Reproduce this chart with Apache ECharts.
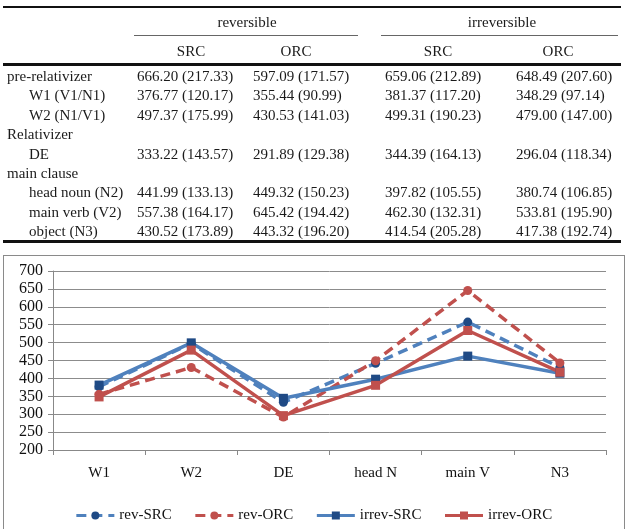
<!DOCTYPE html>
<html>
<head>
<meta charset="utf-8">
<script src="https://cdn.jsdelivr.net/npm/echarts@6/dist/echarts.min.js"></script>
<style>
  body { margin: 0; background: #fff; }
  #page { position: relative; width: 627px; height: 529px; overflow: hidden; font-family: "Liberation Serif", "DejaVu Serif", serif; color: #1a1a1a; }
  #chart { position: absolute; left: 0; top: 0; width: 627px; height: 529px; }
  .t { position: absolute; font-size: 15px; line-height: 20px; white-space: nowrap; }
  .rule { position: absolute; background: #111; }
  #box { position: absolute; left: 3px; top: 255px; width: 620px; height: 290px; border: 1px solid #8a8a8a; }
</style>
</head>
<body>
<div id="page">
  <div id="box"></div>
  <div id="chart"></div>
</div>
<script>
// table rows
let rowLabels = ['pre-relativizer', 'W1 (V1/N1)', 'W2 (N1/V1)', 'Relativizer', 'DE', 'main clause', 'head noun (N2)', 'main verb (V2)', 'object (N3)'];
let rowIndent = [0, 1, 1, 0, 1, 0, 1, 1, 1];
// means, null = group header without values
let revSRC   = [666.20, 376.77, 497.37, null, 333.22, null, 441.99, 557.38, 430.52];
let revORC   = [597.09, 355.44, 430.53, null, 291.89, null, 449.32, 645.42, 443.32];
let irrevSRC = [659.06, 381.37, 499.31, null, 344.39, null, 397.82, 462.30, 414.54];
let irrevORC = [648.49, 348.29, 479.00, null, 296.04, null, 380.74, 533.81, 417.38];
// standard deviations
let revSRCsd   = [217.33, 120.17, 175.99, null, 143.57, null, 133.13, 164.17, 173.89];
let revORCsd   = [171.57, 90.99, 141.03, null, 129.38, null, 150.23, 194.42, 196.20];
let irrevSRCsd = [212.89, 117.20, 190.23, null, 164.13, null, 105.55, 132.31, 205.28];
let irrevORCsd = [207.60, 97.14, 147.00, null, 118.34, null, 106.85, 195.90, 192.74];

// chart
let categories = ['W1', 'W2', 'DE', 'head N', 'main V', 'N3'];
let chartRows = [1, 2, 4, 6, 7, 8]; // which table rows go into the chart
let yTicks = [200, 250, 300, 350, 400, 450, 500, 550, 600, 650, 700];

let page = document.getElementById('page');

function addText(txt, x, y, center) {
    let d = document.createElement('div');
    d.className = 't';
    d.textContent = txt;
    d.style.top = (y - 10) + 'px';
    if (center) {
        d.style.left = (x - 100) + 'px';
        d.style.width = '200px';
        d.style.textAlign = 'center';
    } else {
        d.style.left = x + 'px';
    }
    page.appendChild(d);
}
function addRule(x1, x2, y, h, color) {
    let d = document.createElement('div');
    d.className = 'rule';
    d.style.left = x1 + 'px';
    d.style.width = (x2 - x1) + 'px';
    d.style.top = y + 'px';
    d.style.height = h + 'px';
    if (color) d.style.background = color;
    page.appendChild(d);
}

/* table */
addRule(3, 621, 6, 2);
addText('reversible', 247, 22, true);
addText('irreversible', 502, 22, true);
addRule(134, 358, 35, 1, '#666');
addRule(381, 618, 35, 1, '#666');
addText('SRC', 191, 51, true);
addText('ORC', 296, 51, true);
addText('SRC', 438, 51, true);
addText('ORC', 558, 51, true);
addRule(3, 621, 63, 3);

let colX = [137, 253, 385, 516];
let cols = [[revSRC, revSRCsd], [revORC, revORCsd], [irrevSRC, irrevSRCsd], [irrevORC, irrevORCsd]];
for (let i = 0; i < rowLabels.length; i++) {
    let y = 76 + i * 19.4;
    addText(rowLabels[i], rowIndent[i] ? 29 : 7, y);
    if (revSRC[i] == null) continue;
    for (let c = 0; c < 4; c++) {
        addText(cols[c][0][i].toFixed(2) + ' (' + cols[c][1][i].toFixed(2) + ')', colX[c], y);
    }
}
addRule(3, 621, 240, 3);

/* chart */
function pick(arr) { return chartRows.map(function (r) { return arr[r]; }); }

let blue = '#4F81BD', navy = '#1F4A85', red = '#C0504D';
let chart = echarts.init(document.getElementById('chart'));
chart.setOption({
    animation: false,
    textStyle: { fontFamily: 'Liberation Serif' },
    grid: { left: 53, right: 21, top: 271, bottom: 79 },
    xAxis: {
        type: 'category',
        data: categories,
        boundaryGap: true,
        axisLine: { lineStyle: { color: '#888' } },
        axisTick: { show: true, length: 5, lineStyle: { color: '#888' } },
        axisLabel: { color: '#111', fontSize: 15, margin: 16 }
    },
    yAxis: {
        type: 'value',
        min: yTicks[0],
        max: yTicks[yTicks.length - 1],
        interval: 50,
        axisLine: { show: true, lineStyle: { color: '#888' } },
        axisTick: { show: true, length: 5, lineStyle: { color: '#888' } },
        splitLine: { lineStyle: { color: '#8c8c8c' } },
        axisLabel: { color: '#111', fontSize: 16, margin: 10 }
    },
    legend: {
        top: 503,
        left: 'center',
        itemWidth: 38,
        itemHeight: 10,
        itemGap: 22,
        lineStyle: { width: 3 },
        textStyle: { fontSize: 15, color: '#111', fontFamily: 'Liberation Serif' }
    },
    series: [
        {
            name: 'rev-SRC', type: 'line', data: pick(revSRC),
            symbol: 'circle', symbolSize: 9,
            lineStyle: { color: blue, width: 3.5, type: [10, 6] },
            itemStyle: { color: navy }
        },
        {
            name: 'rev-ORC', type: 'line', data: pick(revORC),
            symbol: 'circle', symbolSize: 9,
            lineStyle: { color: red, width: 3.5, type: [10, 6] },
            itemStyle: { color: red }
        },
        {
            name: 'irrev-SRC', type: 'line', data: pick(irrevSRC),
            symbol: 'rect', symbolSize: 9,
            lineStyle: { color: blue, width: 3.5 },
            itemStyle: { color: navy }
        },
        {
            name: 'irrev-ORC', type: 'line', data: pick(irrevORC),
            symbol: 'rect', symbolSize: 9,
            lineStyle: { color: red, width: 3.5 },
            itemStyle: { color: red }
        }
    ]
});
</script>
</body>
</html>
